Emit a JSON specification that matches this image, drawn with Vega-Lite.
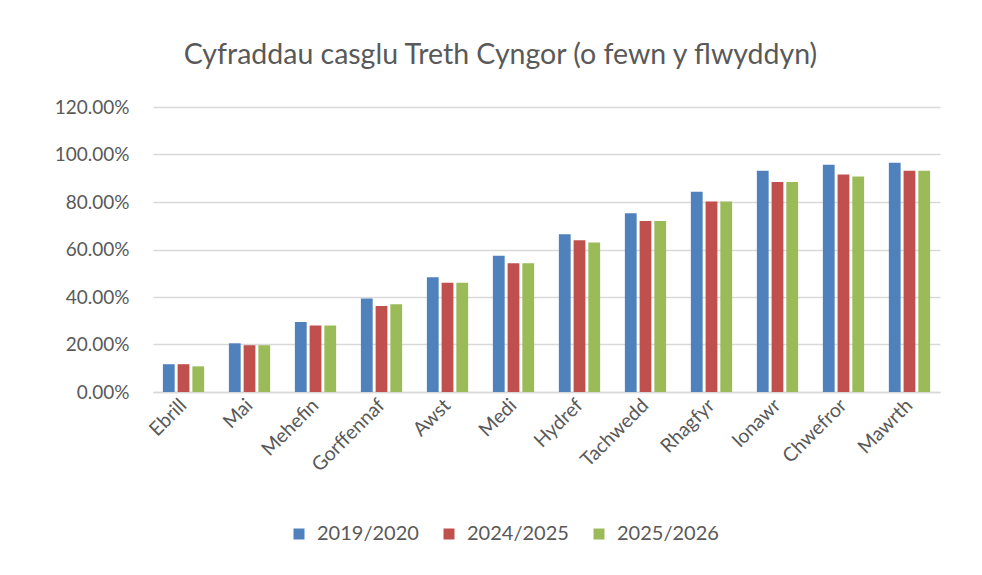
{
  "$schema": "https://vega.github.io/schema/vega-lite/v6.json",
  "width": 787,
  "height": 285,
  "autosize": "none",
  "padding": {"left": 153, "top": 107, "right": 42, "bottom": 183},
  "background": "#ffffff",
  "title": {
    "text": "Cyfraddau casglu Treth Cyngor (o fewn y flwyddyn)",
    "font": "Lato",
    "fontSize": 28.5,
    "fontWeight": "normal",
    "color": "#595959",
    "anchor": "middle",
    "frame": "group",
    "dx": -46,
    "offset": 29
  },
  "data": {
    "values": [
      {"month": "Ebrill", "year": "2019/2020", "rate": 0.117},
      {"month": "Ebrill", "year": "2024/2025", "rate": 0.117},
      {"month": "Ebrill", "year": "2025/2026", "rate": 0.108},
      {"month": "Mai", "year": "2019/2020", "rate": 0.205},
      {"month": "Mai", "year": "2024/2025", "rate": 0.197},
      {"month": "Mai", "year": "2025/2026", "rate": 0.197},
      {"month": "Mehefin", "year": "2019/2020", "rate": 0.295},
      {"month": "Mehefin", "year": "2024/2025", "rate": 0.28},
      {"month": "Mehefin", "year": "2025/2026", "rate": 0.28},
      {"month": "Gorffennaf", "year": "2019/2020", "rate": 0.394},
      {"month": "Gorffennaf", "year": "2024/2025", "rate": 0.362},
      {"month": "Gorffennaf", "year": "2025/2026", "rate": 0.37},
      {"month": "Awst", "year": "2019/2020", "rate": 0.483},
      {"month": "Awst", "year": "2024/2025", "rate": 0.46},
      {"month": "Awst", "year": "2025/2026", "rate": 0.46},
      {"month": "Medi", "year": "2019/2020", "rate": 0.574},
      {"month": "Medi", "year": "2024/2025", "rate": 0.542},
      {"month": "Medi", "year": "2025/2026", "rate": 0.542},
      {"month": "Hydref", "year": "2019/2020", "rate": 0.664},
      {"month": "Hydref", "year": "2024/2025", "rate": 0.639},
      {"month": "Hydref", "year": "2025/2026", "rate": 0.63},
      {"month": "Tachwedd", "year": "2019/2020", "rate": 0.753},
      {"month": "Tachwedd", "year": "2024/2025", "rate": 0.72},
      {"month": "Tachwedd", "year": "2025/2026", "rate": 0.72},
      {"month": "Rhagfyr", "year": "2019/2020", "rate": 0.843},
      {"month": "Rhagfyr", "year": "2024/2025", "rate": 0.802},
      {"month": "Rhagfyr", "year": "2025/2026", "rate": 0.802},
      {"month": "Ionawr", "year": "2019/2020", "rate": 0.932},
      {"month": "Ionawr", "year": "2024/2025", "rate": 0.884},
      {"month": "Ionawr", "year": "2025/2026", "rate": 0.884},
      {"month": "Chwefror", "year": "2019/2020", "rate": 0.957},
      {"month": "Chwefror", "year": "2024/2025", "rate": 0.916},
      {"month": "Chwefror", "year": "2025/2026", "rate": 0.907},
      {"month": "Mawrth", "year": "2019/2020", "rate": 0.965},
      {"month": "Mawrth", "year": "2024/2025", "rate": 0.932},
      {"month": "Mawrth", "year": "2025/2026", "rate": 0.932}
    ]
  },
  "mark": {"type": "bar"},
  "encoding": {
    "x": {
      "field": "month",
      "type": "nominal",
      "sort": null,
      "scale": {"paddingInner": 0.375, "paddingOuter": 0.15},
      "axis": {
        "title": null,
        "labelAngle": -45,
        "labelAlign": "right",
        "labelBaseline": "middle",
        "labelPadding": 10,
        "labelFont": "Lato",
        "labelFontSize": 19.5,
        "labelColor": "#595959",
        "ticks": false,
        "domainColor": "#d9d9d9",
        "domainWidth": 1.5,
        "grid": false
      }
    },
    "xOffset": {
      "field": "year",
      "type": "nominal",
      "scale": {"paddingInner": 0.2}
    },
    "y": {
      "field": "rate",
      "type": "quantitative",
      "scale": {"domain": [0, 1.2], "nice": false},
      "axis": {
        "title": null,
        "format": ".2%",
        "values": [0, 0.2, 0.4, 0.6, 0.8, 1.0, 1.2],
        "labelFont": "Lato",
        "labelFontSize": 19,
        "labelColor": "#595959",
        "labelPadding": 24,
        "ticks": false,
        "domain": false,
        "gridColor": "#d9d9d9",
        "gridWidth": 1.5
      }
    },
    "color": {
      "field": "year",
      "type": "nominal",
      "scale": {
        "domain": ["2019/2020", "2024/2025", "2025/2026"],
        "range": ["#4f81bd", "#c0504d", "#9bbb59"]
      },
      "legend": {
        "title": null,
        "orient": "none",
        "legendX": 136,
        "legendY": 417,
        "direction": "horizontal",
        "symbolType": "square",
        "symbolSize": 121,
        "symbolStrokeWidth": 0,
        "labelFont": "Lato",
        "labelFontSize": 20,
        "labelColor": "#595959",
        "labelOffset": 8,
        "columnPadding": 20
      }
    }
  },
  "config": {
    "view": {"stroke": null}
  }
}
